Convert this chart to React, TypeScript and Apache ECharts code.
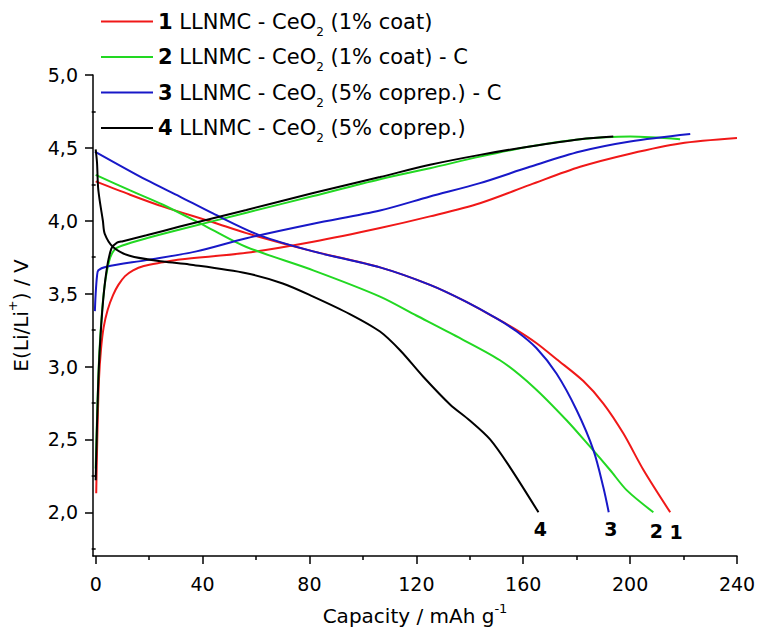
import React, { useEffect, useRef } from "react";
import * as echarts from "echarts";

const FONT = "DejaVu Sans";

// legend / series identifiers
const cellIds = ["1", "2", "3", "4"];
const cellDesc = ["(1% coat)", "(1% coat) - C", "(5% coprep.) - C", "(5% coprep.)"];
const seriesNames = [
  "1 LLNMC - CeO2 (1% coat)",
  "2 LLNMC - CeO2 (1% coat) - C",
  "3 LLNMC - CeO2 (5% coprep.) - C",
  "4 LLNMC - CeO2 (5% coprep.)",
];
const colors = ["#f01818", "#22d822", "#1818c8", "#000000"];

// tick values
const xMajor = [0, 40, 80, 120, 160, 200, 240];
const xMinor = [20, 60, 100, 140, 180, 220];
const yMajor = [2.0, 2.5, 3.0, 3.5, 4.0, 4.5, 5.0];
const yMinor = [1.75, 2.25, 2.75, 3.25, 3.75, 4.25, 4.75];

// [capacity mAh/g, E V]
const charge1 = [[0.2, 2.13], [0.6, 2.5], [1.2, 2.9], [2, 3.12], [3, 3.27], [4.5, 3.39], [6.5, 3.49], [8.5, 3.56], [11, 3.62], [14, 3.66], [18, 3.69], [25.2, 3.715], [31.5, 3.735], [56.4, 3.78], [81.4, 3.856], [106.4, 3.95], [125.1, 4.03], [143.8, 4.12], [162.5, 4.246], [181.3, 4.37], [200, 4.46], [218.7, 4.53], [240, 4.567]];
const discharge1 = [[0, 4.27], [12.7, 4.18], [25.2, 4.097], [43.9, 3.99], [56.4, 3.915], [81.4, 3.79], [106.4, 3.68], [125.1, 3.56], [138, 3.45], [150, 3.33], [157.6, 3.25], [165, 3.16], [172.5, 3.05], [182.5, 2.9], [190, 2.746], [197.5, 2.54], [205, 2.29], [215, 2.0]];

const charge2 = [[0, 2.3], [0.6, 2.7], [1.4, 3.1], [3, 3.5], [5, 3.72], [7, 3.8], [10, 3.83], [19, 3.88], [31.5, 3.94], [56.4, 4.055], [81.4, 4.17], [106.4, 4.285], [125.1, 4.36], [143.8, 4.44], [162.5, 4.51], [181.3, 4.56], [200, 4.578], [218.7, 4.56]];
const discharge2 = [[0, 4.315], [12.7, 4.21], [25.2, 4.11], [41.4, 3.96], [56.4, 3.82], [81.4, 3.66], [106.4, 3.48], [120, 3.35], [132.6, 3.23], [151.3, 3.043], [163.8, 2.86], [176.3, 2.63], [185, 2.45], [192.5, 2.29], [198.8, 2.15], [208.7, 2.0]];

const charge3 = [[-0.3, 3.38], [0, 3.5], [0.5, 3.62], [1, 3.66], [4, 3.685], [19, 3.73], [37.7, 3.79], [56.4, 3.88], [81.4, 3.98], [106.4, 4.07], [125.1, 4.166], [143.8, 4.258], [162.5, 4.37], [181.3, 4.475], [200, 4.544], [222.5, 4.595]];
const discharge3 = [[-0.3, 4.475], [19, 4.28], [31.5, 4.166], [43.9, 4.05], [61.4, 3.9], [81.4, 3.79], [106.4, 3.68], [125.1, 3.56], [138, 3.45], [150, 3.33], [157.6, 3.24], [165, 3.125], [172.5, 2.95], [180, 2.7], [186.3, 2.425], [190, 2.17], [192, 2.0]];

const charge4 = [[0, 2.22], [0.5, 2.6], [1.2, 3.0], [2.5, 3.39], [4, 3.65], [5.9, 3.81], [8, 3.85], [10.2, 3.86], [19, 3.9], [31.5, 3.96], [56.4, 4.074], [81.4, 4.19], [106.4, 4.3], [125.1, 4.384], [143.8, 4.452], [162.5, 4.51], [181.3, 4.56], [193.7, 4.578]];
const discharge4 = [[0, 4.49], [0.5, 4.4], [0.9, 4.23], [1.5, 4.14], [2.7, 4.0], [3.4, 3.91], [6.5, 3.82], [12.7, 3.76], [25.2, 3.72], [35, 3.7], [56.4, 3.64], [70, 3.57], [81.4, 3.48], [95.1, 3.36], [106.4, 3.24], [114, 3.11], [122.6, 2.93], [132.6, 2.74], [140, 2.63], [147.6, 2.5], [155, 2.31], [165.7, 2.0]];

const charges = [charge1, charge2, charge3, charge4];
const discharges = [discharge1, discharge2, discharge3, discharge4];
const endLabelOffsets = [[6, 20], [3, 19], [2, 17], [2, 17]];

export default function App() {
  const ref = useRef<HTMLDivElement>(null);
  useEffect(() => {
    if (!ref.current) return;
    const chart = echarts.init(ref.current, null, { renderer: "svg" });
    const series: any[] = [];
    for (let i = 0; i < 4; i++) {
      const base = {
        type: "line",
        name: seriesNames[i],
        symbol: "none",
        showSymbol: false,
        smooth: 0.3,
        color: colors[i],
        lineStyle: { color: colors[i], width: 2 },
        xAxisIndex: 0,
        yAxisIndex: 0,
      };
      series.push({ ...base, data: charges[i] });
      const last = discharges[i][discharges[i].length - 1];
      series.push({
        ...base,
        data: discharges[i],
        markPoint: {
          symbol: "circle",
          symbolSize: 1,
          itemStyle: { color: "rgba(0,0,0,0)" },
          data: [
            {
              coord: last,
              label: {
                show: true,
                position: "inside",
                offset: endLabelOffsets[i],
                formatter: cellIds[i],
                fontFamily: FONT,
                fontSize: 19,
                fontWeight: "bold",
                color: "#000",
              },
            },
          ],
        },
      });
    }
    const axisLine = { show: true, onZero: false, lineStyle: { color: "#000", width: 1.5 } };
    chart.setOption({
      animation: false,
      backgroundColor: "#fff",
      grid: { left: 93, top: 75, width: 644, height: 481, containLabel: false, outerBoundsMode: "none" },
      legend: {
        data: seriesNames,
        orient: "vertical",
        left: 96,
        top: 6,
        icon: "rect",
        itemWidth: 52,
        itemHeight: 2,
        itemGap: 9,
        textStyle: {
          fontFamily: FONT,
          fontSize: 21,
          color: "#000",
          rich: {
            b: { fontFamily: FONT, fontSize: 21, fontWeight: "bold", color: "#000" },
            t: { fontFamily: FONT, fontSize: 21, color: "#000" },
            sub: { fontFamily: FONT, fontSize: 12, color: "#000", padding: [20, 0, 0, 0] },
          },
        },
        formatter: (name: string) => {
          const i = seriesNames.indexOf(name);
          return `{b|${cellIds[i]}}{t| LLNMC - CeO}{sub|2}{t| ${cellDesc[i]}}`;
        },
      },
      xAxis: [
        {
          type: "value",
          min: -1,
          max: 240,
          position: "bottom",
          axisLine,
          axisTick: { show: true, length: 8, customValues: xMajor, lineStyle: { color: "#000", width: 1.5 } },
          axisLabel: { customValues: xMajor, margin: 18, fontFamily: FONT, fontSize: 19, color: "#000" },
          splitLine: { show: false },
          name: "Capacity / mAh g{sup|-1}",
          nameLocation: "middle",
          nameGap: 46,
          nameTextStyle: {
            fontFamily: FONT,
            fontSize: 20,
            color: "#000",
            rich: {
              sup: { fontFamily: FONT, fontSize: 13, color: "#000", padding: [0, 0, 14, 0] },
            },
          },
        },
        {
          type: "value",
          min: -1,
          max: 240,
          position: "bottom",
          axisLine: { show: false },
          axisTick: { show: true, length: 4, customValues: xMinor, lineStyle: { color: "#000", width: 1.5 } },
          axisLabel: { show: false },
          splitLine: { show: false },
        },
      ],
      yAxis: [
        {
          type: "value",
          min: 1.7,
          max: 5.0,
          position: "left",
          axisLine,
          axisTick: { show: true, length: 8, customValues: yMajor, lineStyle: { color: "#000", width: 1.5 } },
          axisLabel: {
            customValues: yMajor,
            margin: 15,
            fontFamily: FONT,
            fontSize: 19,
            color: "#000",
            formatter: (v: number) => v.toFixed(1).replace(".", ","),
          },
          splitLine: { show: false },
          name: "E(Li/Li{sup|+}) / V",
          nameLocation: "middle",
          nameGap: 58,
          nameTextStyle: {
            fontFamily: FONT,
            fontSize: 20,
            color: "#000",
            rich: {
              sup: { fontFamily: FONT, fontSize: 13, color: "#000", padding: [0, 0, 16, 0] },
            },
          },
        },
        {
          type: "value",
          min: 1.7,
          max: 5.0,
          position: "left",
          axisLine: { show: false },
          axisTick: { show: true, length: 4, customValues: yMinor, lineStyle: { color: "#000", width: 1.5 } },
          axisLabel: { show: false },
          splitLine: { show: false },
        },
      ],
      series,
    });
    return () => chart.dispose();
  }, []);
  return (
    <div
      ref={ref}
      style={{ position: "absolute", left: 0, top: 0, width: 758, height: 630 }}
    />
  );
}
